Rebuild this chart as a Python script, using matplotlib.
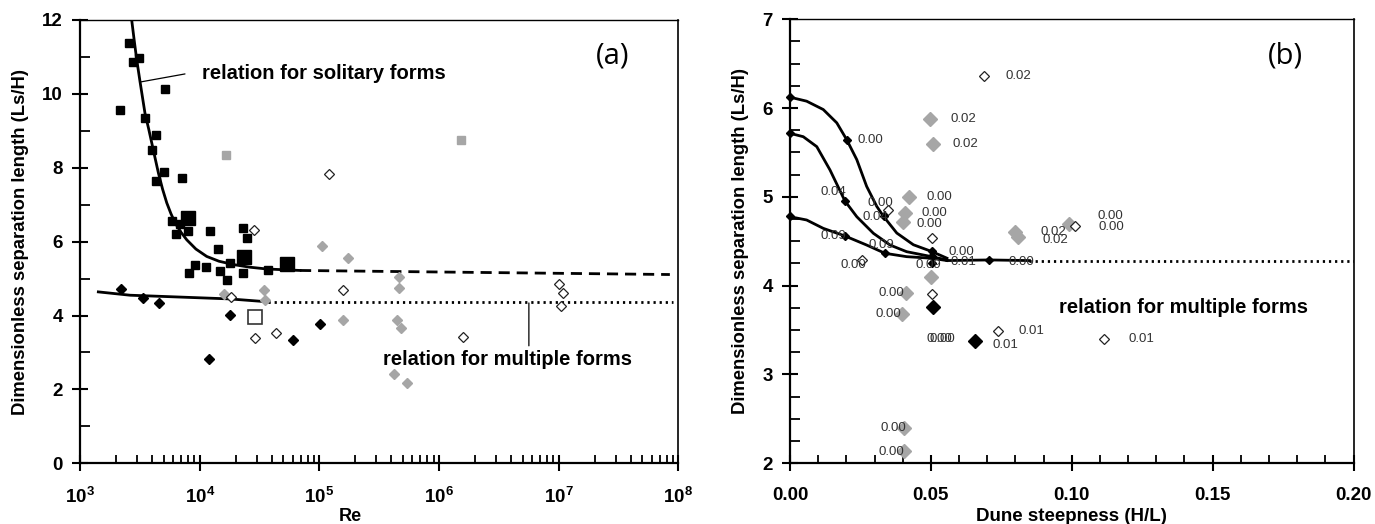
import numpy as np
import matplotlib
matplotlib.use("Agg")
import matplotlib.pyplot as plt
from matplotlib.ticker import FixedLocator, MultipleLocator, NullFormatter, FixedFormatter

plt.rcParams['font.family'] = ['Liberation Sans', 'DejaVu Sans']
plt.rcParams['font.weight'] = 'bold'
plt.rcParams['mathtext.fontset'] = 'custom'
plt.rcParams['mathtext.bf'] = 'Liberation Sans:bold'
plt.rcParams['mathtext.rm'] = 'Liberation Sans'

# ---------------- panel (a) data : Re vs Ls/H ----------------
sol_re = [2585, 2790, 3097, 2159, 5140, 3490, 4296, 3998, 5015, 4296, 7127, 5912, 6820,
          6385, 8000, 12300, 23200, 24750, 14150, 9160, 11370, 8150, 14830, 17960,
          37300, 16830, 22900]
sol_ls = [11.37, 10.85, 10.98, 9.57, 10.13, 9.35, 8.89, 8.47, 7.89, 7.65, 7.72, 6.56, 6.49,
          6.20, 6.29, 6.28, 6.38, 6.09, 5.80, 5.36, 5.31, 5.14, 5.20, 5.41,
          5.24, 4.96, 5.14]
sol_big_re = [8000, 23650, 53400]
sol_big_ls = [6.64, 5.58, 5.40]
gray_sq_re = [16640, 1535000]
gray_sq_ls = [8.35, 8.76]
open_sq_re = [29000]
open_sq_ls = [3.96]
mult_blk_re = [2217, 3340, 4570, 18070, 12050, 59950, 101600]
mult_blk_ls = [4.72, 4.48, 4.34, 4.02, 2.81, 3.35, 3.77]
mult_open_re = [28500, 121600, 18150, 29040, 43570, 158900, 1574000, 9.98e6, 1.08e7, 1.05e7]
mult_open_ls = [6.31, 7.82, 4.50, 3.39, 3.53, 4.68, 3.43, 4.86, 4.61, 4.25]
mult_gray_re = [105400, 175000, 16100, 34800, 35200, 157000, 464000, 464000, 444400,
                480000, 421400, 545000]
mult_gray_ls = [5.87, 5.56, 4.59, 4.70, 4.41, 3.88, 5.05, 4.75, 3.89, 3.67, 2.41, 2.18]

# relation curves
solcurve_re = [2704, 2850, 2980, 3175, 3490, 3750, 3980, 4250, 4520, 4900, 5310, 5750,
               6230, 7000, 7800, 9300, 11450, 14500, 19140, 26000, 36400, 50000, 69000]
solcurve_ls = [12.0, 11.40, 10.92, 10.33, 9.48, 9.05, 8.67, 8.25, 7.86, 7.42, 7.05, 6.76,
               6.51, 6.25, 6.05, 5.80, 5.60, 5.47, 5.38, 5.31, 5.26, 5.24, 5.22]
soldash_re = [69000, 8.5e7]
soldash_ls = [5.22, 5.11]
multcurve_re = [1423, 2620, 17800, 37500]
multcurve_ls = [4.64, 4.55, 4.45, 4.37]
multdot_re = [37500, 9e7]
multdot_ls = [4.37, 4.37]

re_ticks = [1e3, 1e4, 1e5, 1e6, 1e7, 1e8]
re_labels = [r'$\mathbf{10^{3}}$', r'$\mathbf{10^{4}}$', r'$\mathbf{10^{5}}$',
             r'$\mathbf{10^{6}}$', r'$\mathbf{10^{7}}$', r'$\mathbf{10^{8}}$']

# ---------------- panel (b) data : H/L vs Ls/H ----------------
gray_hl = [0.0497, 0.0509, 0.0424, 0.0409, 0.0400, 0.0500, 0.0412, 0.0398, 0.0403, 0.0403,
           0.0799, 0.0809, 0.0989]
gray_y = [5.88, 5.60, 5.00, 4.82, 4.72, 4.10, 3.92, 3.68, 2.40, 2.135, 4.61, 4.55, 4.70]
open_hl = [0.0687, 0.0349, 0.0503, 0.0255, 0.0503, 0.0737, 0.1113, 0.1012]
open_y = [6.36, 4.85, 4.54, 4.29, 3.91, 3.49, 3.40, 4.67]
big_hl = [0.0506, 0.0655]
big_y = [3.76, 3.38]
pt_hl = [0.0, 0.0, 0.0, 0.0201, 0.0195, 0.0195, 0.0332, 0.0337, 0.0503, 0.0503, 0.0503, 0.0707]
pt_y = [6.12, 5.72, 4.78, 5.646, 4.954, 4.56, 4.78, 4.365, 4.39, 4.33, 4.26, 4.29]

c1_hl = [0.0, 0.0059, 0.0118, 0.0166, 0.0201, 0.0237, 0.0272, 0.0308, 0.0332, 0.0379, 0.0438, 0.0503, 0.0557]
c1_y = [6.123, 6.078, 5.984, 5.834, 5.646, 5.420, 5.119, 4.893, 4.780, 4.593, 4.461, 4.385, 4.310]
c2_hl = [0.0, 0.0047, 0.0095, 0.0142, 0.0195, 0.0237, 0.0296, 0.0355, 0.0414, 0.0503, 0.0557]
c2_y = [5.716, 5.678, 5.566, 5.303, 4.954, 4.777, 4.590, 4.458, 4.383, 4.327, 4.29]
c3_hl = [0.0, 0.0059, 0.0118, 0.0195, 0.0272, 0.0337, 0.0414, 0.0503, 0.0557]
c3_y = [4.777, 4.740, 4.646, 4.560, 4.458, 4.365, 4.327, 4.309, 4.283]
tail_hl = [0.0557, 0.0707, 0.085]
tail_y = [4.283, 4.29, 4.283]
dot_hl = [0.085, 0.2]
dot_y = [4.283, 4.283]

lbl_txt = ['0.00', '0.04', '0.09', '0.00', '0.04', '0.09', '0.00', '0.09', '0.00', '0.01',
           '0.00', '0.02', '0.02', '0.02', '0.00', '0.00', '0.00', '0.00', '0.00', '0.00',
           '0.00', '0.00', '0.00', '0.01', '0.01', '0.01', '0.02', '0.02', '0.00', '0.00']
lbl_x = [0.0238, 0.0107, 0.0107, 0.0274, 0.0256, 0.0277, 0.0178, 0.0444, 0.0561, 0.0568,
         0.0775, 0.0764, 0.0568, 0.0576, 0.0483, 0.0468, 0.0448, 0.0313, 0.0305, 0.0322,
         0.0313, 0.0485, 0.0495, 0.0717, 0.0810, 0.1200, 0.0888, 0.0896, 0.1090, 0.1095]
lbl_y = [5.645, 5.05, 4.56, 4.93, 4.77, 4.46, 4.23, 4.23, 4.38, 4.27,
         4.27, 6.36, 5.88, 5.60, 5.00, 4.82, 4.70, 3.92, 3.68, 2.40,
         2.13, 3.40, 3.40, 3.33, 3.49, 3.40, 4.61, 4.52, 4.79, 4.66]

GRAY = '#a6a6a6'

fig = plt.figure(figsize=(13.75, 5.24), dpi=100)
axa = fig.add_axes([80 / 1375, 1 - 463.3 / 524, 598.3 / 1375, 443.3 / 524])
axb = fig.add_axes([790 / 1375, 1 - 463.3 / 524, 563.5 / 1375, 444.0 / 524])

# ---------- (a) ----------
axa.set_xscale('log')
axa.plot(solcurve_re, solcurve_ls, 'k-', lw=2)
axa.plot(soldash_re, soldash_ls, 'k-', lw=2, dashes=(4, 2.5))
axa.plot(multcurve_re, multcurve_ls, 'k-', lw=2)
axa.plot(multdot_re, multdot_ls, 'k-', lw=2, dashes=(0.8, 1.4))

axa.plot(sol_re, sol_ls, 's', color='k', ms=6, ls='none')
axa.plot(sol_big_re, sol_big_ls, 's', color='k', ms=10, ls='none')
axa.plot(gray_sq_re, gray_sq_ls, 's', color=GRAY, ms=6, ls='none')
axa.plot(open_sq_re, open_sq_ls, 's', mfc='white', mec='#333333', mew=1.2, ms=10, ls='none')
axa.plot(mult_gray_re, mult_gray_ls, 'D', color=GRAY, ms=5, ls='none')
axa.plot(mult_blk_re, mult_blk_ls, 'D', color='k', ms=5, ls='none')
axa.plot(mult_open_re, mult_open_ls, 'D', mfc='white', mec='#222222', mew=0.9, ms=5, ls='none')

axa.set_xlim(1e3, 1e8)
axa.set_ylim(0, 12)
axa.xaxis.set_major_locator(FixedLocator(re_ticks))
axa.xaxis.set_major_formatter(FixedFormatter(re_labels))
minor_re = [m * 10.0 ** e for e in range(3, 8) for m in range(2, 10)]
axa.xaxis.set_minor_locator(FixedLocator(minor_re))
axa.xaxis.set_minor_formatter(NullFormatter())
axa.yaxis.set_major_locator(MultipleLocator(2))
axa.yaxis.set_minor_locator(MultipleLocator(1))

# leader lines + labels for the two relations
axa.annotate('', xy=(3170, 10.32), xytext=(7540, 10.54),
             arrowprops=dict(arrowstyle='-', color='k', lw=0.9, shrinkA=0, shrinkB=0))
axa.text(10400, 10.54, 'relation for solitary forms', fontsize=14.5, fontweight='bold',
         va='center', ha='left')
axa.annotate('', xy=(5.64e6, 4.34), xytext=(5.64e6, 3.18),
             arrowprops=dict(arrowstyle='-', color='k', lw=0.9, shrinkA=0, shrinkB=0))
axa.text(3.4e5, 2.82, 'relation for multiple forms', fontsize=14.5, fontweight='bold',
         va='center', ha='left')
axa.text(0.89, 0.918, '(a)', transform=axa.transAxes, fontsize=21, fontweight='normal',
         family=['Open Sans', 'DejaVu Sans'], ha='center', va='center')
axa.set_xlabel('Re', fontsize=13, fontweight='bold', va='center')
axa.xaxis.set_label_coords(0.4515, -0.121)
axa.set_ylabel('Dimensionless separation length (Ls/H)', fontsize=13.3, fontweight='bold',
               va='center')
axa.yaxis.set_label_coords(-0.100, 0.5)

# ---------- (b) ----------
axb.plot(c1_hl, c1_y, 'k-', lw=2, clip_on=False)
axb.plot(c2_hl, c2_y, 'k-', lw=2, clip_on=False)
axb.plot(c3_hl, c3_y, 'k-', lw=2, clip_on=False)
axb.plot(tail_hl, tail_y, 'k-', lw=2)
axb.plot(dot_hl, dot_y, 'k-', lw=2, dashes=(0.8, 1.4))

axb.plot(gray_hl, gray_y, 'D', color=GRAY, ms=7.5, ls='none')
axb.plot(open_hl, open_y, 'D', mfc='white', mec='#222222', mew=0.9, ms=5.5, ls='none')
axb.plot(big_hl, big_y, 'D', color='k', ms=7.5, ls='none')
axb.plot(pt_hl, pt_y, 'D', color='k', ms=4, ls='none', clip_on=False)

for t, x, y in zip(lbl_txt, lbl_x, lbl_y):
    axb.text(x, y, t, fontsize=9.5, fontweight='normal', color='#333333', ha='left', va='center')

axb.text(0.1398, 3.76, 'relation for multiple forms', fontsize=14.5, fontweight='bold',
         ha='center', va='center')
axb.text(0.88, 0.918, '(b)', transform=axb.transAxes, fontsize=21, fontweight='normal',
         family=['Open Sans', 'DejaVu Sans'], ha='center', va='center')

axb.set_xlim(0, 0.2)
axb.set_ylim(2, 7)
axb.xaxis.set_major_locator(MultipleLocator(0.05))
axb.xaxis.set_minor_locator(MultipleLocator(0.01))
axb.xaxis.set_major_formatter(plt.FormatStrFormatter('%.2f'))
axb.yaxis.set_major_locator(MultipleLocator(1))
axb.yaxis.set_minor_locator(MultipleLocator(0.25))
axb.set_xlabel('Dune steepness (H/L)', fontsize=13.5, fontweight='bold', va='center')
axb.xaxis.set_label_coords(0.5, -0.119)
axb.set_ylabel('Dimensionless separation length (Ls/H)', fontsize=13.3, fontweight='bold',
               va='center')
axb.yaxis.set_label_coords(-0.0887, 0.5)

for ax in (axa, axb):
    ax.tick_params(which='major', direction='inout', length=11.5, width=1.5, labelsize=13.5)
    ax.tick_params(axis='x', which='major', pad=11)
    ax.tick_params(axis='y', which='major', pad=6.5)
    ax.tick_params(axis='x', which='minor', direction='in', length=6, width=1.3)
    ax.tick_params(axis='y', which='minor', direction='in', length=7, width=1.3)
    ax.spines['left'].set_linewidth(1.6)
    ax.spines['bottom'].set_linewidth(1.6)
    ax.spines['top'].set_linewidth(1.0)
    ax.spines['right'].set_linewidth(1.2)
    for lab in ax.get_xticklabels() + ax.get_yticklabels():
        lab.set_fontweight('bold')

fig.savefig('out.png', dpi=100)
